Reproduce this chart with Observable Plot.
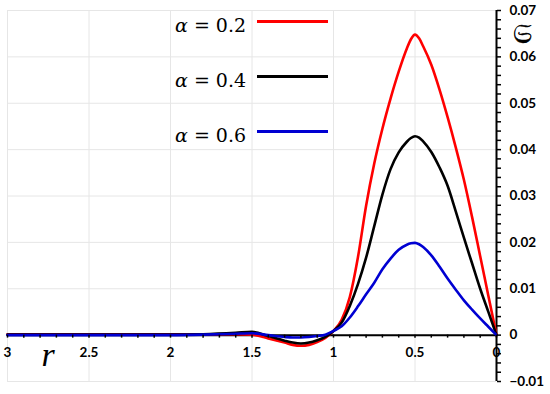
<!DOCTYPE html>
<html><head><meta charset="utf-8">
<script src="https://cdn.jsdelivr.net/npm/d3@7"></script>
<script src="https://cdn.jsdelivr.net/npm/@observablehq/plot@0.6"></script>
<style>body{margin:0;background:#fff} #chart{width:550px;height:394px}</style>
</head><body><div id="chart"></div>
<script>
// r values (x) and S values for each alpha
const r   = [0, 0.05, 0.1, 0.15, 0.2, 0.25, 0.3, 0.35, 0.4, 0.45, 0.475, 0.5, 0.525, 0.55, 0.6, 0.65, 0.7, 0.75, 0.8, 0.85, 0.9, 0.95, 1.0, 1.05, 1.1, 1.15, 1.2, 1.25, 1.3, 1.4, 1.5, 1.6, 1.8, 2.0, 2.5, 3.0];
const s02 = [0, 0.0085, 0.017, 0.0255, 0.0335, 0.0405, 0.047, 0.053, 0.0583, 0.0623, 0.0640, 0.0648, 0.0638, 0.0618, 0.0568, 0.051, 0.0445, 0.037, 0.0279, 0.0168, 0.0082, 0.0033, 0.0009, -0.0006, -0.0015, -0.0021, -0.0023, -0.0021, -0.0016, -0.0007, 0.0001, 0.0002, 0.0002, 0.0002, 0.0002, 0.0002];
const s04 = [0, 0.005, 0.010, 0.0155, 0.021, 0.0267, 0.0322, 0.0362, 0.0395, 0.0418, 0.0426, 0.0429, 0.0425, 0.0417, 0.0394, 0.0358, 0.0303, 0.0235, 0.0167, 0.0110, 0.0063, 0.0027, 0.0009, -0.0004, -0.0011, -0.0016, -0.0018, -0.0016, -0.0012, -0.0002, 0.0007, 0.0005, 0.0002, 0.0001, 0.0001, 0.0001];
const s06 = [0, 0.0018, 0.0036, 0.0055, 0.0075, 0.0098, 0.0122, 0.0148, 0.0172, 0.019, 0.0196, 0.0199, 0.0198, 0.0195, 0.0184, 0.0165, 0.0142, 0.0113, 0.0088, 0.0062, 0.0038, 0.0019, 0.0009, 0.0001, -0.0002, -0.0004, -0.0005, -0.0005, -0.0004, 0.0, 0.0004, 0.0003, 0.0001, 0.0, 0.0, 0.0];
const alphas = ["0.2", "0.4", "0.6"];
const colors = ["#ff0000", "#000000", "#0000d2"];
const xMajor = [3, 2.5, 2, 1.5, 1, 0.5, 0];
const xMinor = d3.range(0, 31).map(i => i / 10);
const yMajor = [-0.01, 0, 0.01, 0.02, 0.03, 0.04, 0.05, 0.06, 0.07];
const yMinor = d3.range(-5, 36).map(i => i * 0.002);

const series = [s02, s04, s06];
// order points left-to-right on screen (r descending) for the monotone curve
const data = series.flatMap((s, k) => r.map((rv, i) => ({r: rv, s: s[i], alpha: alphas[k]})).reverse());

const W = 550, H = 394, mL = 7, mR = 54, mT = 10, mB = 13;
const yScale = Plot.scale({y: {domain: [-0.01, 0.07], range: [H - mB, mT]}});
const dyX = yScale.apply(0) - (H - mB);
const fmtY = d => d === 0 ? "0" : d3.format(".2f")(d);

const plot = Plot.plot({
  width: W, height: H,
  marginLeft: mL, marginRight: mR, marginTop: mT, marginBottom: mB,
  x: {domain: [3, 0], label: null, axis: null},
  y: {domain: [-0.01, 0.07], label: null, axis: null},
  color: {domain: alphas, range: colors},
  style: {fontFamily: "Lato, sans-serif", background: "#fff", overflow: "visible"},
  marks: [
    Plot.gridX(xMajor, {stroke: "#e6e6e6", strokeOpacity: 1}),
    Plot.gridY(yMajor, {stroke: "#e6e6e6", strokeOpacity: 1}),
    Plot.ruleY([0], {strokeWidth: 2}),
    Plot.ruleX([0], {strokeWidth: 2}),
    Plot.line(data, {x: "r", y: "s", z: "alpha", stroke: "alpha", strokeWidth: 2.6, curve: "monotone-x"}),
    Plot.axisX(xMinor, {anchor: "bottom", tickSize: 3, tickFormat: () => "", dy: dyX, strokeWidth: 1.5, label: null}),
    Plot.axisX(xMajor, {anchor: "bottom", tickSize: 0, tickPadding: 12, tickFormat: d => String(d), dy: dyX, fontWeight: "bold", fontSize: 13.5, fill: "#000", label: null}),
    Plot.axisY(yMinor, {anchor: "right", tickSize: 4, tickFormat: () => "", strokeWidth: 1.5, label: null}),
    Plot.axisY(yMajor, {anchor: "right", tickSize: 0, tickPadding: 13, tickFormat: fmtY, fontWeight: "bold", fontSize: 13.5, fill: "#000", label: null})
  ]
});

const svg = d3.select(plot);
const lg = svg.append("g").attr("font-family", "'DejaVu Serif', serif").attr("font-size", 19).attr("text-anchor", "start");
alphas.forEach((a, i) => {
  const base = 32 + i * 55;
  const t = lg.append("text").attr("x", 175).attr("y", base).attr("fill", "#000");
  t.append("tspan").attr("font-style", "italic").text("α");
  t.append("tspan").text(" = " + a);
  lg.append("line").attr("x1", 257).attr("x2", 328).attr("y1", base - 10.5).attr("y2", base - 10.5)
    .attr("stroke", colors[i]).attr("stroke-width", 3);
});
svg.append("text").attr("x", 48).attr("y", 366).attr("text-anchor", "middle")
  .attr("font-family", "'Liberation Serif', serif").attr("font-style", "italic").attr("font-size", 34).text("r");
svg.append("text").attr("x", 522).attr("y", 43).attr("text-anchor", "middle")
  .attr("font-size", 27).attr("stroke", "#000").attr("stroke-width", 0.5).text("𝔖");

document.getElementById("chart").appendChild(plot);
</script></body></html>
